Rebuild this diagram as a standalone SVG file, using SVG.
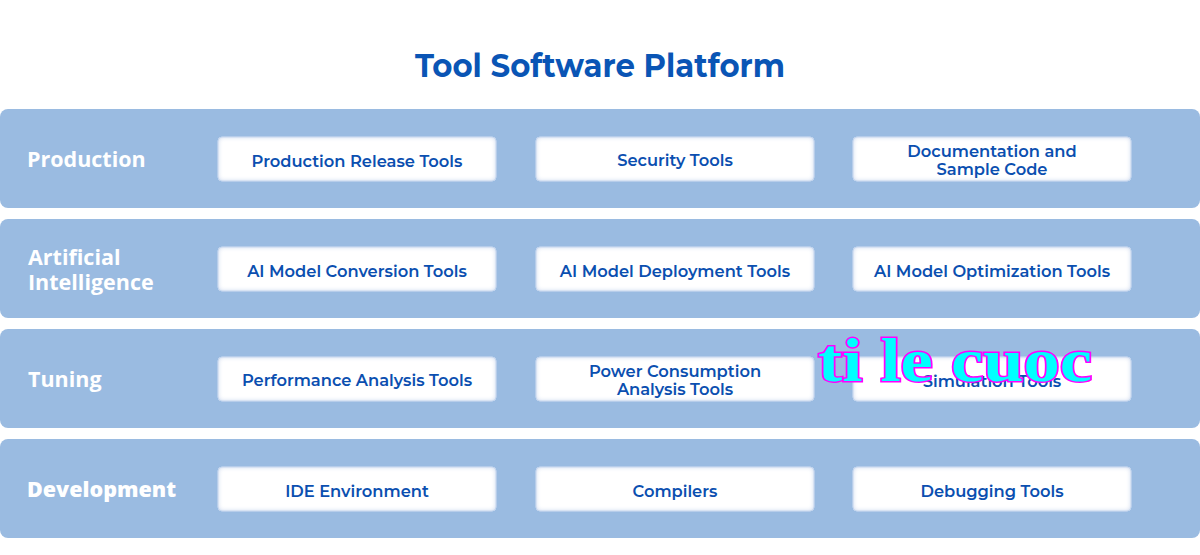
<svg xmlns="http://www.w3.org/2000/svg" width="1200" height="555" viewBox="0 0 1200 555">
<defs>
<filter id="inset" x="-5%" y="-20%" width="110%" height="140%">
<feFlood flood-color="#a9c2e6" result="c"/>
<feComposite in="c" in2="SourceAlpha" operator="out" result="o"/>
<feGaussianBlur in="o" stdDeviation="2.5" result="b"/>
<feComposite in="b" in2="SourceAlpha" operator="in" result="i"/>
<feMerge><feMergeNode in="SourceGraphic"/><feMergeNode in="i"/></feMerge>
</filter>
<style>
.band{fill:#9abbe1}
.box{fill:#ffffff;stroke:#dbe6f5;stroke-width:1}
.lbl{font-family:"Open Sans","Noto Sans",sans-serif;font-weight:700;font-size:21.5px;fill:#ffffff}
.t{font-family:"Montserrat","Open Sans","Inter",sans-serif;font-weight:600;font-size:16.3px;fill:#0b4fb0;text-anchor:middle}
.title{font-family:"Montserrat","Inter","Open Sans",sans-serif;font-weight:700;font-size:32px;fill:#0a55b5;text-anchor:middle}
.wm{font-family:"Liberation Serif","DejaVu Serif",serif;font-weight:700;font-size:62px;fill:#00ffff;stroke:#ff00ff;stroke-width:3;paint-order:stroke}
</style>
</defs>
<rect width="1200" height="555" fill="#ffffff"/>
<text class="title" x="600" y="77" textLength="370" lengthAdjust="spacingAndGlyphs">Tool Software Platform</text>

<g id="production">
<rect class="band" x="0" y="109" width="1200" height="99" rx="8"/>
<text class="lbl" x="27" y="167">Production</text>
<g id="prod-release"><rect class="box" x="218" y="137" width="278" height="44" rx="4" filter="url(#inset)"/><text class="t" x="357" y="167">Production Release Tools</text></g>
<g id="security"><rect class="box" x="536" y="137" width="278" height="44" rx="4" filter="url(#inset)"/><text class="t" x="675" y="166">Security Tools</text></g>
<g id="docs"><rect class="box" x="853" y="137" width="278" height="44" rx="4" filter="url(#inset)"/><text class="t" x="992" y="157">Documentation and</text><text class="t" x="992" y="175">Sample Code</text></g>
</g>

<g id="ai">
<rect class="band" x="0" y="219" width="1200" height="99" rx="8"/>
<text class="lbl" x="28" y="265">Artificial</text>
<text class="lbl" x="28" y="290">Intelligence</text>
<g id="ai-conv"><rect class="box" x="218" y="247" width="278" height="44" rx="4" filter="url(#inset)"/><text class="t" x="357" y="277">AI Model Conversion Tools</text></g>
<g id="ai-deploy"><rect class="box" x="536" y="247" width="278" height="44" rx="4" filter="url(#inset)"/><text class="t" x="675" y="277">AI Model Deployment Tools</text></g>
<g id="ai-opt"><rect class="box" x="853" y="247" width="278" height="44" rx="4" filter="url(#inset)"/><text class="t" x="992" y="277">AI Model Optimization Tools</text></g>
</g>

<g id="tuning">
<rect class="band" x="0" y="329" width="1200" height="99" rx="8"/>
<text class="lbl" x="28" y="387">Tuning</text>
<g id="perf"><rect class="box" x="218" y="357" width="278" height="44" rx="4" filter="url(#inset)"/><text class="t" x="357" y="386">Performance Analysis Tools</text></g>
<g id="power"><rect class="box" x="536" y="357" width="278" height="44" rx="4" filter="url(#inset)"/><text class="t" x="675" y="377">Power Consumption</text><text class="t" x="675" y="395">Analysis Tools</text></g>
<g id="sim"><rect class="box" x="853" y="357" width="278" height="44" rx="4" filter="url(#inset)"/><text class="t" x="992" y="387">Simulation Tools</text></g>
</g>

<g id="development">
<rect class="band" x="0" y="439" width="1200" height="99" rx="8"/>
<text class="lbl" x="27" y="497" style="font-weight:800">Development</text>
<g id="ide"><rect class="box" x="218" y="467" width="278" height="44" rx="4" filter="url(#inset)"/><text class="t" x="357" y="497">IDE Environment</text></g>
<g id="compilers"><rect class="box" x="536" y="467" width="278" height="44" rx="4" filter="url(#inset)"/><text class="t" x="675" y="497">Compilers</text></g>
<g id="debug"><rect class="box" x="853" y="467" width="278" height="44" rx="4" filter="url(#inset)"/><text class="t" x="992" y="497">Debugging Tools</text></g>
</g>

<g id="connectors"></g>

<text class="wm" x="818" y="381" textLength="274" lengthAdjust="spacingAndGlyphs">ti le cuoc</text>
</svg>
